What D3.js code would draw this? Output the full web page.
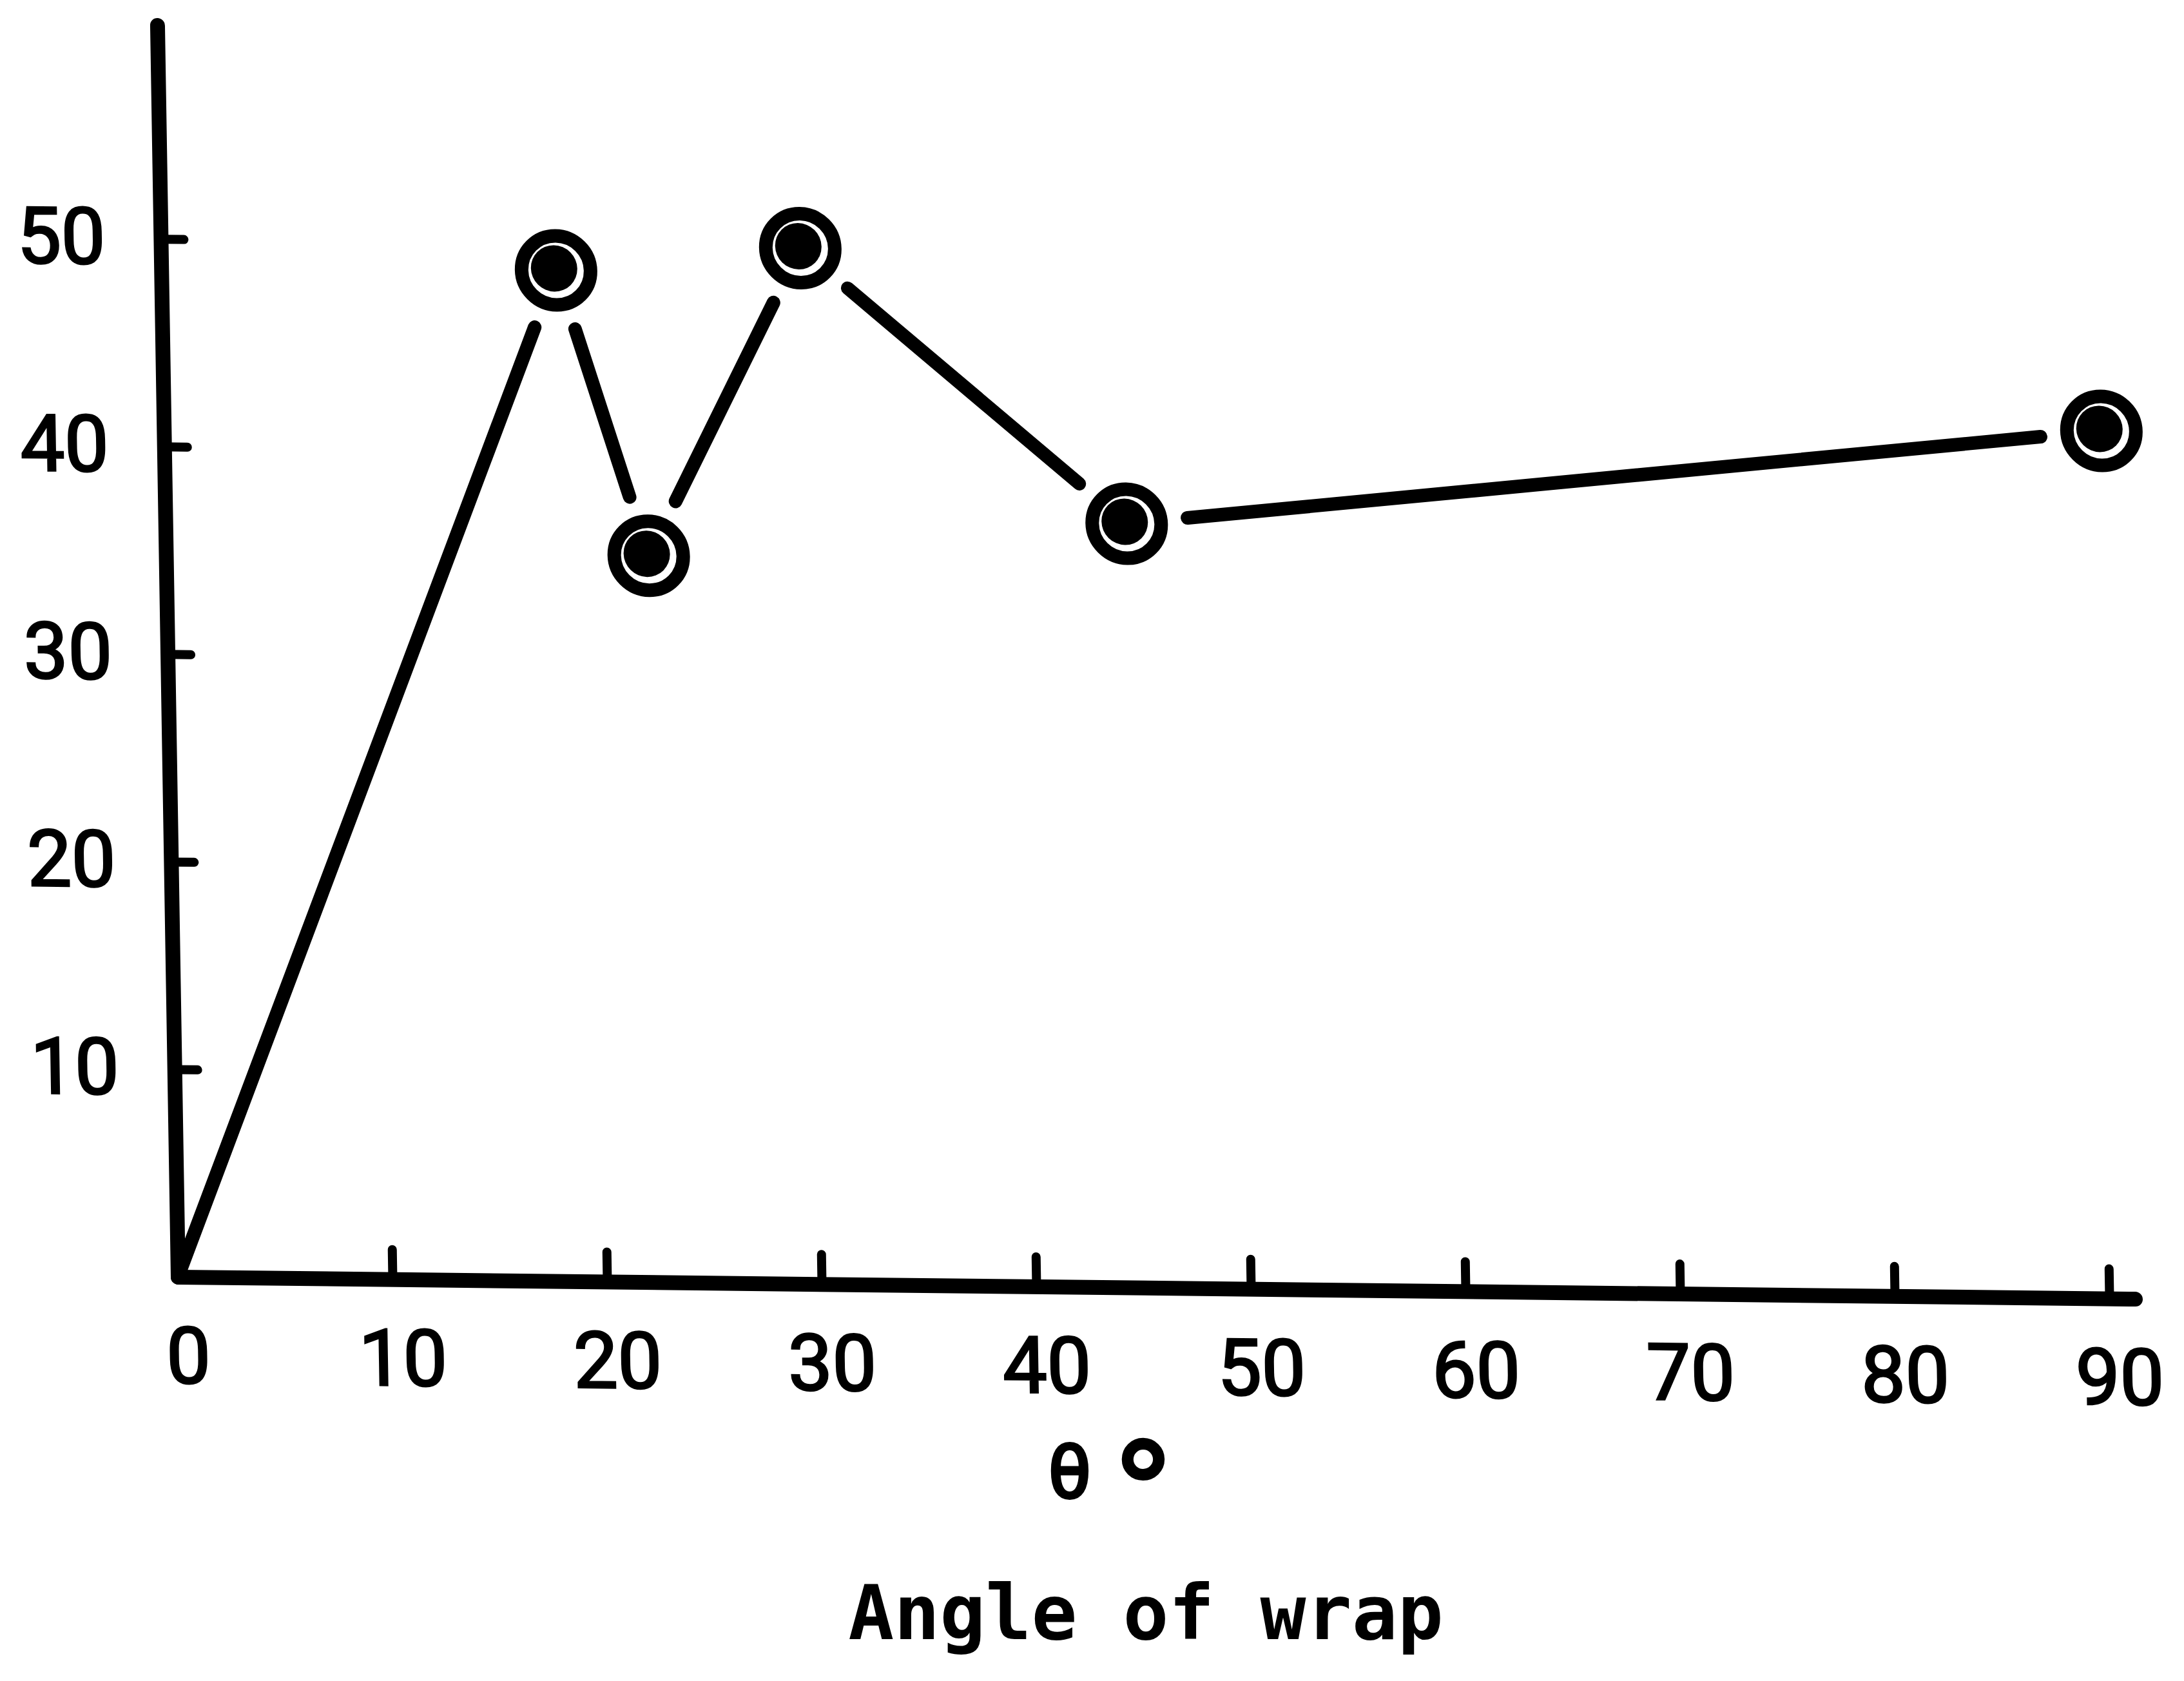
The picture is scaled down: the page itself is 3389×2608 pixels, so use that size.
<!DOCTYPE html>
<html>
<head>
<meta charset="utf-8">
<script src="https://cdn.jsdelivr.net/npm/d3@7"></script>
<style>
  html, body { margin: 0; padding: 0; background: #ffffff; }
  svg { display: block; }
</style>
</head>
<body>
<svg id="chart" width="3389" height="2608"></svg>
<script>
// Measured points: angle of wrap (degrees) against the response value.
// The series starts at the origin, which carries no marker.
const angles  = [0, 18.4, 22.5, 29.8, 44.8, 90.3];
const values  = [0, 48.7, 35.0, 49.9, 36.8, 41.8];
const marked  = [false, true, true, true, true, true];

const xTickValues = [0, 10, 20, 30, 40, 50, 60, 70, 80, 90];
const yTickValues = [10, 20, 30, 40, 50];
const xDomain = [0, 91.2];
const yDomain = [0, 60.3];

const axisTitle   = "Angle of wrap";
const thetaSymbol = "θ";
const degreeSign  = "°";

// ---- layout -------------------------------------------------------------
const W = 3389, H = 2608;
const origin = { x: 276, y: 1981 };
const plotW = 3037, plotH = 1942;
// hand-ruled axes lean slightly: the x axis drops to the right, the y axis leans left
const leanX = 0.0112, leanY = 0.0165;

const INK = "#000000";
const digitFont = "Roboto, 'DejaVu Sans', sans-serif";
const titleFont = "'DejaVu Sans Mono', monospace";

const svg = d3.select("#chart")
  .attr("viewBox", `0 0 ${W} ${H}`);

svg.append("rect").attr("width", W).attr("height", H).attr("fill", "#ffffff");

const x = d3.scaleLinear().domain(xDomain).range([0, plotW]);
const y = d3.scaleLinear().domain(yDomain).range([0, -plotH]);

const plot = svg.append("g")
  .attr("transform", `matrix(1, ${leanX}, ${leanY}, 1, ${origin.x}, ${origin.y})`);

// ---- axes ---------------------------------------------------------------
const xAxis = d3.axisBottom(x)
  .tickValues(xTickValues)
  .tickFormat(d3.format("d"))
  .tickSizeInner(-46)
  .tickSizeOuter(0)
  .tickPadding(78);

const yAxis = d3.axisLeft(y)
  .tickValues(yTickValues)
  .tickFormat(d3.format("d"))
  .tickSizeInner(-36)
  .tickSizeOuter(0)
  .tickPadding(86);

function styleAxis(g) {
  g.attr("font-family", digitFont).attr("font-size", 122);
  g.select(".domain")
    .attr("stroke", INK)
    .attr("stroke-width", 23)
    .attr("stroke-linecap", "round");
  g.selectAll(".tick line")
    .attr("stroke", INK)
    .attr("stroke-width", 14)
    .attr("stroke-linecap", "round");
  g.selectAll(".tick text")
    .attr("fill", INK)
    .attr("stroke", INK)
    .attr("stroke-width", 3)
    .attr("paint-order", "stroke");
}

plot.append("g").attr("class", "x-axis").call(xAxis).call(styleAxis)
  .selectAll(".tick text").attr("dx", 14);

plot.append("g").attr("class", "y-axis").call(yAxis).call(styleAxis);

// ---- connecting line, broken short of each ringed marker ---------------
const pts = angles.map((a, i) => ({ px: x(a), py: y(values[i]), ring: marked[i] }));
const gap = 95;
const segLine = d3.line();

const segments = d3.pairs(pts).map(([p0, p1]) => {
  const dx = p1.px - p0.px, dy = p1.py - p0.py;
  const len = Math.hypot(dx, dy);
  const ux = dx / len, uy = dy / len;
  const s = p0.ring ? gap : 0;
  const e = p1.ring ? gap : 0;
  return [[p0.px + ux * s, p0.py + uy * s], [p1.px - ux * e, p1.py - uy * e]];
});

plot.append("g").attr("class", "series")
  .selectAll("path")
  .data(segments)
  .join("path")
  .attr("d", segLine)
  .attr("fill", "none")
  .attr("stroke", INK)
  .attr("stroke-width", 21)
  .attr("stroke-linecap", "round");

// ---- markers: ring with a solid dot inside -----------------------------
const markers = plot.append("g").attr("class", "markers")
  .selectAll("g")
  .data(pts.filter(p => p.ring))
  .join("g")
  .attr("transform", p => `translate(${p.px},${p.py})`);

markers.append("circle")
  .attr("r", 53.5)
  .attr("fill", "#ffffff")
  .attr("stroke", INK)
  .attr("stroke-width", 21);

markers.append("circle")
  .attr("cx", -3).attr("cy", -3)
  .attr("r", 36)
  .attr("fill", INK);

// ---- axis captions -----------------------------------------------------
svg.append("text")
  .attr("x", 1660).attr("y", 2324)
  .attr("text-anchor", "middle")
  .attr("font-family", titleFont)
  .attr("font-size", 116)
  .attr("fill", INK)
  .attr("stroke", INK).attr("stroke-width", 4).attr("paint-order", "stroke")
  .text(thetaSymbol);

svg.append("text")
  .attr("x", 1774).attr("y", 2378)
  .attr("text-anchor", "middle")
  .attr("font-family", titleFont)
  .attr("font-size", 195)
  .attr("fill", INK)
  .attr("stroke", INK).attr("stroke-width", 6).attr("paint-order", "stroke")
  .text(degreeSign);

svg.append("text")
  .attr("x", 1778).attr("y", 2543)
  .attr("text-anchor", "middle")
  .attr("font-family", titleFont)
  .attr("font-weight", "bold")
  .attr("font-size", 118)
  .attr("fill", INK)
  .text(axisTitle);
</script>
</body>
</html>
